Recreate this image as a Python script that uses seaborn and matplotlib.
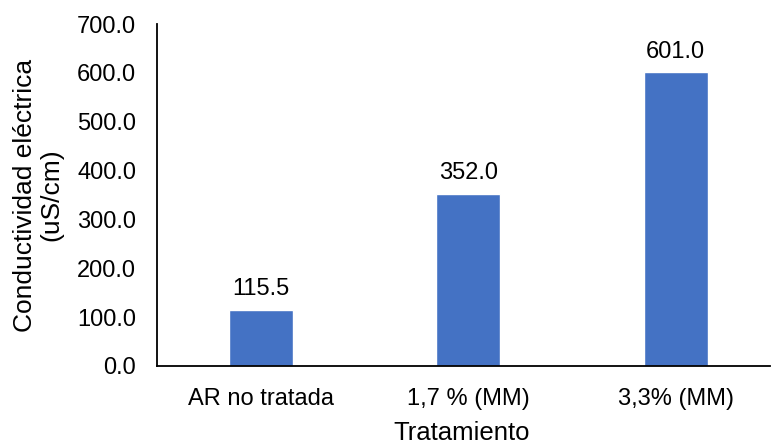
import matplotlib
matplotlib.use("Agg")
import matplotlib.pyplot as plt
import seaborn as sns
import pandas as pd

categories = ["AR no tratada", "1,7 % (MM)", "3,3% (MM)"]
conductividad = [115.5, 352.0, 601.0]

sns.set_theme(style="white")
plt.rcParams["font.family"] = ["Liberation Sans", "DejaVu Sans"]

df = pd.DataFrame({"Tratamiento": categories, "Conductividad": conductividad})

fig = plt.figure(figsize=(7.71, 4.44), dpi=100)
ax = fig.add_axes([0.2036, 0.1757, 0.7951, 0.7702])

sns.barplot(data=df, x="Tratamiento", y="Conductividad", color="#4472C4",
            width=0.31, saturation=1, ax=ax)

for patch, val in zip(ax.patches, conductividad):
    ax.annotate(f"{val:.1f}", (patch.get_x() + patch.get_width() / 2, val),
                xytext=(0, 7), textcoords="offset points",
                ha="center", va="bottom", fontsize=17, color="black")

ax.set_ylim(0, 700)
ax.set_xlim(-0.5, 2.454)
ax.set_yticks(range(0, 701, 100))
ax.set_yticklabels([f"{v:.1f}" for v in range(0, 701, 100)])
ax.tick_params(axis="both", length=0, labelsize=17, colors="black")
ax.tick_params(axis="y", pad=15)
ax.tick_params(axis="x", pad=16)

ax.set_xlabel("Tratamiento", fontsize=18.5, color="black")
ax.set_ylabel("Conductividad eléctrica\n(uS/cm)", fontsize=19, color="black",
              linespacing=1.1)
ax.xaxis.set_label_coords(0.497, -0.16)
ax.yaxis.set_label_coords(-0.153, 0.5)

for side in ["top", "right"]:
    ax.spines[side].set_visible(False)
for side in ["left", "bottom"]:
    ax.spines[side].set_color("black")
    ax.spines[side].set_linewidth(1.3)

fig.savefig("out.png", dpi=100)
